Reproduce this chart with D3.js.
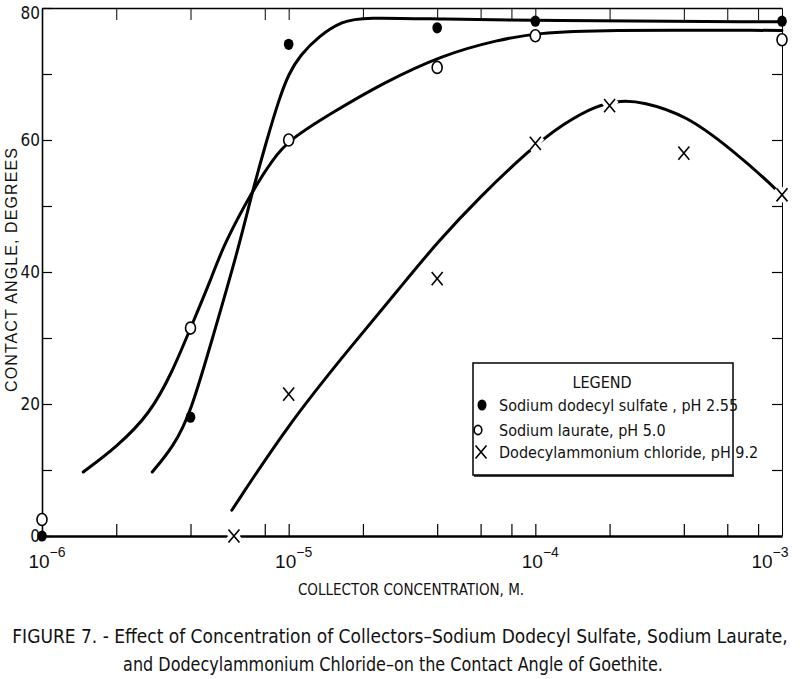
<!DOCTYPE html>
<html>
<head>
<meta charset="utf-8">
<script src="https://cdn.jsdelivr.net/npm/d3@7"></script>
<style>
  html, body { margin: 0; padding: 0; background: #fff; }
  svg { display: block; }
</style>
</head>
<body>
<svg id="chart" width="800" height="679"></svg>
<script>
// ---- data ----
const seriesNames = [
  "Sodium dodecyl sulfate , pH 2.55",
  "Sodium laurate, pH 5.0",
  "Dodecylammonium chloride, pH 9.2"
];
// measured points
const concSDS  = [1e-6, 4e-6, 1e-5, 4e-5, 1e-4, 1e-3];
const angleSDS = [0, 18, 74.5, 77, 78, 78];
const concSL   = [1e-6, 4e-6, 1e-5, 4e-5, 1e-4, 1e-3];
const angleSL  = [2.5, 31.5, 60, 71, 75.8, 75.2];
const concDAC  = [6e-6, 1e-5, 4e-5, 1e-4, 2e-4, 4e-4, 1e-3];
const angleDAC = [0, 21.5, 39, 59.5, 65.2, 58, 51.7];
// hand-drawn smooth curves
const curveSDSConc  = [2.8e-6, 3.4e-6, 4e-6, 5e-6, 6.2e-6, 7.15e-6, 8.15e-6, 9.2e-6, 1e-5, 1.11e-5, 1.33e-5, 1.65e-5, 2e-5, 4.2e-5, 1e-4, 1e-3];
const curveSDSAngle = [9.7, 13.5, 18.5, 31, 43, 52.4, 60, 66.5, 70, 72.8, 75.8, 78, 78.6, 78.3, 78.1, 77.9];
const curveSLConc   = [1.47e-6, 2.01e-6, 2.74e-6, 3.39e-6, 4e-6, 4.92e-6, 5.4e-6, 7.15e-6, 8.6e-6, 1e-5, 1.51e-5, 2.4e-5, 4.2e-5, 7.1e-5, 1.02e-4, 1.8e-4, 1e-3];
const curveSLAngle  = [9.7, 13.5, 18.5, 25, 31.5, 39.5, 43.8, 52.4, 57, 60, 64.2, 68.6, 72.9, 75.2, 76.2, 76.7, 76.6];
const curveDACConc  = [5.88e-6, 1e-5, 1.77e-5, 2.81e-5, 4e-5, 6e-5, 9.46e-5, 1.3e-4, 1.78e-4, 2.23e-4, 2.71e-4, 4.08e-4, 6.28e-4, 9.1e-4, 1e-3];
const curveDACAngle = [3.9, 17, 28.5, 37.5, 44.5, 51.5, 58.5, 62.5, 65.3, 66, 65.8, 63.8, 58.5, 53.2, 51.5];
// axes
const yTicks = [0, 10, 20, 30, 40, 50, 60, 70, 80];
const yLabels = [0, 20, 40, 60, 80];
const xMinorTicks = [2e-6, 4e-6, 8e-6, 1e-5, 2e-5, 4e-5, 6e-5, 8e-5, 1e-4, 2e-4, 4e-4, 6e-4, 8e-4];
const xDecades = [1e-6, 1e-5, 1e-4, 1e-3];
const xDecadeExps = ["\u22126", "\u22125", "\u22124", "\u22123"];
const yTitle = "CONTACT ANGLE, DEGREES";
const xTitle = "COLLECTOR CONCENTRATION, M.";
const captionLines = [
  "FIGURE 7. - Effect of Concentration of Collectors\u2013Sodium Dodecyl Sulfate, Sodium Laurate,",
  "and Dodecylammonium Chloride\u2013on the Contact Angle of Goethite."
];

// ---- drawing ----
const svg = d3.select("#chart");
const narrow = "'Liberation Sans Narrow', 'DejaVu Sans Condensed', 'Arial Narrow', sans-serif";
const sans = "'Liberation Sans', Arial, sans-serif";

const x = d3.scaleLog().domain([1e-6, 1e-3]).range([42, 782]);
const y = d3.scaleLinear().domain([0, 80]).range([536, 8]);

// axes
const gLeft = svg.append("g").attr("transform", `translate(${x.range()[0]},0)`)
  .call(d3.axisLeft(y).tickValues(yTicks).tickSize(-10).tickSizeOuter(0).tickPadding(2)
    .tickFormat(d => yLabels.includes(d) ? d : ""));
gLeft.select(".domain").attr("stroke-width", 1.6);
gLeft.selectAll(".tick line").attr("stroke-width", 1.2);
gLeft.selectAll(".tick text").attr("font-family", narrow).attr("font-size", 17).attr("fill", "#111")
  .attr("dy", d => d === 80 ? "0.6em" : "0.32em");

const gRight = svg.append("g").attr("transform", `translate(${x.range()[1]},0)`)
  .call(d3.axisRight(y).tickValues(yTicks.slice(1, -1)).tickSize(-10).tickSizeOuter(0).tickFormat(""));
gRight.select(".domain").attr("stroke-width", 1);
gRight.selectAll(".tick line").attr("stroke-width", 1.2);

const gTop = svg.append("g").attr("transform", `translate(0,${y(80)})`)
  .call(d3.axisTop(x).tickValues(xMinorTicks).tickSize(-12).tickSizeOuter(0).tickFormat(""));
gTop.select(".domain").attr("stroke-width", 1.3);
gTop.selectAll(".tick line").attr("stroke-width", 1);

const gBottom = svg.append("g").attr("transform", `translate(0,${y(0)})`)
  .call(d3.axisBottom(x).tickValues(xMinorTicks).tickSize(-12).tickSizeOuter(0).tickFormat(""));
gBottom.select(".domain").attr("stroke-width", 2.6);
gBottom.selectAll(".tick line").attr("stroke-width", 1.2);

// decade labels with superscripts
const decLab = svg.append("g").selectAll("text").data(xDecades).join("text")
  .attr("x", d => Math.min(x(d) + 5, 770))
  .attr("y", 568)
  .attr("text-anchor", "middle")
  .attr("font-family", sans)
  .attr("font-size", 19)
  .attr("fill", "#111");
decLab.append("tspan").text("10");
decLab.append("tspan").attr("dy", -11).attr("font-size", 14).text((d, i) => xDecadeExps[i]);

// axis titles
svg.append("text")
  .attr("transform", `translate(17,270) rotate(-90)`)
  .attr("text-anchor", "middle")
  .attr("font-family", sans)
  .attr("font-size", 16)
  .attr("textLength", 244)
  .attr("lengthAdjust", "spacing")
  .attr("fill", "#111")
  .text(yTitle);

// horizontally squeezed text helper (keeps real text, fits a target width)
function fitText(str, cx, baseY, size, width) {
  const t = svg.append("text")
    .attr("text-anchor", "middle")
    .attr("font-family", narrow)
    .attr("font-size", size)
    .attr("fill", "#111")
    .text(str);
  const natural = t.node().getComputedTextLength();
  const k = Math.min(1, width / natural);
  t.attr("transform", `translate(${cx},${baseY}) scale(${k},1)`);
  return t;
}

fitText(xTitle, 411, 595, 15, 227);
fitText(captionLines[0], 400, 643, 20, 776);
fitText(captionLines[1], 393, 671, 20, 540);

// curves
const line = d3.line().x(d => x(d[0])).y(d => y(d[1])).curve(d3.curveBasis);
const curves = [
  d3.zip(curveSDSConc, curveSDSAngle),
  d3.zip(curveSLConc, curveSLAngle),
  d3.zip(curveDACConc, curveDACAngle)
];
svg.append("g").selectAll("path").data(curves).join("path")
  .attr("d", line)
  .attr("fill", "none")
  .attr("stroke", "#000")
  .attr("stroke-width", 3)
  .attr("stroke-linecap", "round");

// markers
const xPath = (cx, cy, s) => `M${cx - s},${cy - s * 1.2}L${cx + s},${cy + s * 1.2}M${cx + s},${cy - s * 1.2}L${cx - s},${cy + s * 1.2}`;

const gm = svg.append("g");
gm.selectAll(".xhalo").data(d3.zip(concDAC, angleDAC)).join("path")
  .attr("d", d => xPath(x(d[0]), y(d[1]), 5.5))
  .attr("stroke", "#fff").attr("stroke-width", 9).attr("fill", "none");
gm.selectAll(".xm").data(d3.zip(concDAC, angleDAC)).join("path")
  .attr("d", d => xPath(x(d[0]), y(d[1]), 5.5))
  .attr("stroke", "#000").attr("stroke-width", 1.6).attr("fill", "none");

gm.selectAll(".sl").data(d3.zip(concSL, angleSL)).join("ellipse")
  .attr("cx", d => x(d[0])).attr("cy", d => y(d[1]))
  .attr("rx", 5).attr("ry", 6)
  .attr("fill", "#fff").attr("stroke", "#000").attr("stroke-width", 1.6);

gm.selectAll(".sds").data(d3.zip(concSDS, angleSDS)).join("ellipse")
  .attr("cx", d => x(d[0])).attr("cy", d => y(d[1]))
  .attr("rx", 4.8).attr("ry", 5.6)
  .attr("fill", "#000");

// legend
const lg = svg.append("g");
lg.append("rect").attr("x", 473).attr("y", 363).attr("width", 260).attr("height", 112)
  .attr("fill", "#fff").attr("stroke", "#000").attr("stroke-width", 1.5);
lg.append("line").attr("x1", 474).attr("x2", 734).attr("y1", 476).attr("y2", 476)
  .attr("stroke", "#000").attr("stroke-width", 1.5);
lg.append("text").attr("x", 602).attr("y", 388).attr("text-anchor", "middle")
  .attr("font-family", narrow).attr("font-size", 16).attr("fill", "#111").text("LEGEND");
const rowsY = [405, 430, 452];
lg.append("ellipse").attr("cx", 482).attr("cy", rowsY[0]).attr("rx", 4.5).attr("ry", 5.5).attr("fill", "#000");
lg.append("ellipse").attr("cx", 478).attr("cy", rowsY[1]).attr("rx", 3.8).attr("ry", 4.6)
  .attr("fill", "#fff").attr("stroke", "#000").attr("stroke-width", 1.6);
lg.append("path").attr("d", xPath(481, rowsY[2], 5.5)).attr("stroke", "#000").attr("stroke-width", 1.6).attr("fill", "none");
lg.selectAll(".lt").data(seriesNames).join("text")
  .attr("x", 499).attr("y", (d, i) => rowsY[i] + 6)
  .attr("font-family", narrow).attr("font-size", 16).attr("fill", "#111")
  .text(d => d);
</script>
</body>
</html>
